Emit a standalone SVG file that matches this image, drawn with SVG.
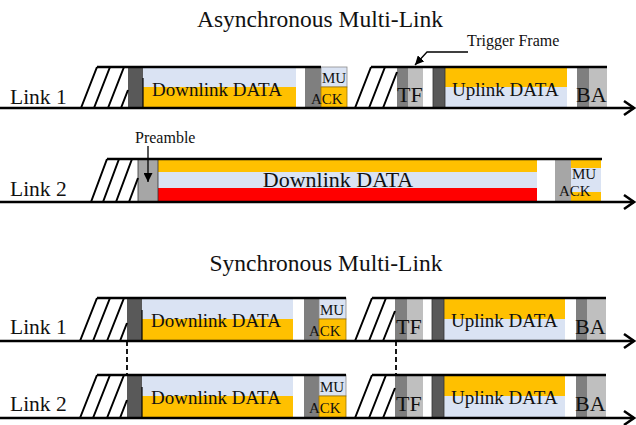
<svg xmlns="http://www.w3.org/2000/svg" width="636" height="425" viewBox="0 0 636 425">
  <defs>
    <style>
      text { font-family: "Liberation Serif", "Times New Roman", serif; fill: #111; }
      .title { font-size: 23.5px; text-anchor: middle; }
      .lbl { font-size: 21.5px; }
      .data { font-size: 19px; }
      .big { font-size: 22px; }
      .small { font-size: 15px; }
      .note { font-size: 16px; }
      .hatch { stroke: #000; stroke-width: 2; fill: none; }
      .top { stroke: #000; stroke-width: 2.5; fill: none; }
      .axis { stroke: #000; stroke-width: 2.5; fill: none; }
      .head { stroke: #000; stroke-width: 2.5; fill: none; stroke-linejoin: miter; }
      .blue { fill: #DAE3F3; }
      .orange { fill: #FFC000; }
      .red { fill: #FF0000; }
      .dark { fill: #595959; }
      .mid { fill: #7F7F7F; }
      .light { fill: #BFBFBF; }
      .pre { fill: #A6A6A6; }
      .tick { stroke: #000; stroke-width: 1.2; }
      .dash { stroke: #000; stroke-width: 1.8; stroke-dasharray: 5 3; }
    </style>
    <marker id="tri" viewBox="0 0 10 10" refX="10" refY="5" markerWidth="9" markerHeight="9" markerUnits="userSpaceOnUse" orient="auto">
      <path d="M0,0 L10,5 L0,10 Z" fill="#000"/>
    </marker>
  </defs>

  <!-- headings -->
  <g id="title-async"><text class="title" x="320" y="27">Asynchronous Multi-Link</text></g>
  <g id="title-sync"><text class="title" x="326" y="271">Synchronous Multi-Link</text></g>

  <!-- link names -->
  <g id="label-a1"><text class="lbl" x="10" y="104">Link 1</text></g>
  <g id="label-a2"><text class="lbl" x="10" y="196">Link 2</text></g>
  <g id="label-s1"><text class="lbl" x="10" y="334">Link 1</text></g>
  <g id="label-s2"><text class="lbl" x="10" y="411">Link 2</text></g>

  <!-- ===== Asynchronous, link 1 ===== -->
  <g id="a1-downlink">
    <rect class="blue" x="143" y="67" width="153" height="20"/>
    <rect class="orange" x="143" y="87" width="153" height="21"/>
    <rect class="dark" x="128" y="67" width="15" height="41"/>
    <line class="tick" x1="143" y1="78" x2="143" y2="108"/>
    <text class="data" x="152" y="96">Downlink DATA</text>
  </g>
  <g id="a1-muack">
    <rect class="mid" x="305" y="67" width="16" height="41"/>
    <rect class="blue" x="321" y="67" width="26" height="20" stroke="#8c8c8c" stroke-width="0.8"/>
    <rect class="orange" x="321" y="87" width="26" height="21" stroke="#a07800" stroke-width="0.8"/>
    <text class="small" x="322" y="83">MU</text>
    <text class="small" x="311" y="104">ACK</text>
  </g>
  <g id="a1-tf">
    <rect class="mid" x="397" y="67" width="11" height="41"/>
    <rect class="light" x="408" y="67" width="15" height="41"/>
    <text class="big" x="397" y="102">TF</text>
  </g>
  <g id="a1-uplink">
    <rect class="orange" x="445" y="67" width="122" height="20"/>
    <rect class="blue" x="445" y="87" width="122" height="21"/>
    <rect class="dark" x="433" y="67" width="12" height="41" stroke="#333" stroke-width="0.8"/>
    <text class="data" x="452" y="96">Uplink DATA</text>
  </g>
  <g id="a1-ba">
    <rect class="mid" x="577" y="67" width="12" height="41"/>
    <rect class="light" x="589" y="67" width="18" height="41"/>
    <text class="big" x="576" y="102">BA</text>
  </g>
  <g id="a1-trigger-note">
    <text class="note" x="467" y="46">Trigger Frame</text>
  </g>

  <!-- ===== Asynchronous, link 2 ===== -->
  <g id="a2-downlink">
    <rect class="orange" x="158" y="159" width="379" height="13"/>
    <rect class="blue" x="158" y="172" width="379" height="16"/>
    <rect class="red" x="158" y="188" width="379" height="14"/>
    <rect class="pre" x="138" y="159" width="20" height="43" stroke="#333" stroke-width="0.8"/>
    <text class="big" x="338" y="187" text-anchor="middle">Downlink DATA</text>
  </g>
  <g id="a2-muack">
    <rect class="orange" x="571" y="159" width="30" height="9"/>
    <rect class="blue" x="571" y="168" width="30" height="24"/>
    <rect class="orange" x="571" y="192" width="30" height="10"/>
    <rect class="pre" x="555" y="159" width="16" height="44"/>
    <text class="small" x="572" y="179">MU</text>
    <text class="small" x="559" y="196">ACK</text>
  </g>
  <g id="a2-preamble-note">
    <text class="note" x="135" y="143">Preamble</text>
  </g>

  <!-- ===== Synchronous, link 1 ===== -->
  <g id="s1-downlink">
    <rect class="blue" x="142" y="298" width="151" height="21"/>
    <rect class="orange" x="142" y="319" width="151" height="22"/>
    <rect class="dark" x="127" y="298" width="15" height="43"/>
    <line class="tick" x1="142" y1="310" x2="142" y2="341"/>
    <text class="data" x="151" y="327">Downlink DATA</text>
  </g>
  <g id="s1-muack">
    <rect class="mid" x="304" y="298" width="15" height="43"/>
    <rect class="blue" x="319" y="298" width="27" height="21" stroke="#8c8c8c" stroke-width="0.8"/>
    <rect class="orange" x="319" y="319" width="27" height="22" stroke="#a07800" stroke-width="0.8"/>
    <text class="small" x="320" y="315">MU</text>
    <text class="small" x="309" y="336">ACK</text>
  </g>
  <g id="s1-tf">
    <rect class="mid" x="395" y="298" width="12" height="43"/>
    <rect class="light" x="407" y="298" width="16" height="43"/>
    <text class="big" x="396" y="334">TF</text>
  </g>
  <g id="s1-uplink">
    <rect class="orange" x="444" y="298" width="121" height="21"/>
    <rect class="blue" x="444" y="319" width="121" height="22"/>
    <rect class="dark" x="432" y="298" width="12" height="43" stroke="#333" stroke-width="0.8"/>
    <text class="data" x="451" y="327">Uplink DATA</text>
  </g>
  <g id="s1-ba">
    <rect class="mid" x="576" y="298" width="11" height="43"/>
    <rect class="light" x="587" y="298" width="19" height="43"/>
    <text class="big" x="575" y="334">BA</text>
  </g>

  <!-- ===== Synchronous, link 2 ===== -->
  <g id="s2-downlink">
    <rect class="blue" x="142" y="375" width="151" height="21"/>
    <rect class="orange" x="142" y="396" width="151" height="22"/>
    <rect class="dark" x="127" y="375" width="15" height="43"/>
    <line class="tick" x1="142" y1="387" x2="142" y2="418"/>
    <text class="data" x="151" y="404">Downlink DATA</text>
  </g>
  <g id="s2-muack">
    <rect class="mid" x="304" y="375" width="15" height="43"/>
    <rect class="blue" x="319" y="375" width="27" height="21" stroke="#8c8c8c" stroke-width="0.8"/>
    <rect class="orange" x="319" y="396" width="27" height="22" stroke="#a07800" stroke-width="0.8"/>
    <text class="small" x="320" y="392">MU</text>
    <text class="small" x="309" y="413">ACK</text>
  </g>
  <g id="s2-tf">
    <rect class="mid" x="395" y="375" width="12" height="43"/>
    <rect class="light" x="407" y="375" width="16" height="43"/>
    <text class="big" x="396" y="411">TF</text>
  </g>
  <g id="s2-uplink">
    <rect class="orange" x="444" y="375" width="121" height="21"/>
    <rect class="blue" x="444" y="396" width="121" height="22"/>
    <rect class="dark" x="432" y="375" width="12" height="43" stroke="#333" stroke-width="0.8"/>
    <text class="data" x="451" y="404">Uplink DATA</text>
  </g>
  <g id="s2-ba">
    <rect class="mid" x="576" y="375" width="11" height="43"/>
    <rect class="light" x="587" y="375" width="19" height="43"/>
    <text class="big" x="575" y="411">BA</text>
  </g>

  <!-- contention (backoff) hatching before each frame -->
  <g id="backoff">
    <path class="hatch" d="M81,108 L97,67 M94,108 L110,67 M108,108 L124,67 M121,108 L128,90"/>
    <path class="hatch" d="M355,108 L371,67 M369,108 L385,67 M383,108 L397,72"/>
    <path class="hatch" d="M91,202 L107,159 M103,202 L119,159 M116,202 L132,159 M129,202 L138,178"/>
    <path class="hatch" d="M80,341 L97,298 M93,341 L110,298 M107,341 L124,298 M120,341 L127,323"/>
    <path class="hatch" d="M355,341 L372,298 M369,341 L386,298 M383,341 L395,311"/>
    <path class="hatch" d="M80,418 L97,375 M93,418 L110,375 M107,418 L124,375 M120,418 L127,400"/>
    <path class="hatch" d="M355,418 L372,375 M369,418 L386,375 M383,418 L395,388"/>
  </g>

  <!-- connectors: frame outlines, time axes, pointers, alignment guides -->
  <g id="connectors">
    <!-- top edges of transmissions -->
    <line class="top" x1="97" y1="67" x2="321" y2="67"/>
    <line class="top" x1="371" y1="67" x2="607" y2="67"/>
    <line class="top" x1="107" y1="159" x2="602" y2="159"/>
    <line class="top" x1="97" y1="298" x2="346" y2="298"/>
    <line class="top" x1="372" y1="298" x2="606" y2="298"/>
    <line class="top" x1="97" y1="375" x2="346" y2="375"/>
    <line class="top" x1="372" y1="375" x2="606" y2="375"/>

    <!-- time axes -->
    <line class="axis" x1="0" y1="108" x2="634" y2="108"/>
    <path class="head" d="M624,101 L634,108 L624,115"/>
    <line class="axis" x1="0" y1="202" x2="634" y2="202"/>
    <path class="head" d="M624,195 L634,202 L624,209"/>
    <line class="axis" x1="0" y1="341" x2="634" y2="341"/>
    <path class="head" d="M624,334 L634,341 L624,348"/>
    <line class="axis" x1="0" y1="418" x2="634" y2="418"/>
    <path class="head" d="M624,411 L634,418 L624,425"/>

    <!-- pointer to the trigger frame -->
    <polyline points="468,52 427,52 415,65" fill="none" stroke="#000" stroke-width="1.3" marker-end="url(#tri)"/>
    <!-- pointer to the preamble -->
    <line x1="148" y1="146" x2="148" y2="182" stroke="#000" stroke-width="1.3" marker-end="url(#tri)"/>

    <!-- synchronised start markers -->
    <line class="dash" x1="127" y1="341" x2="127" y2="375"/>
    <line class="dash" x1="396" y1="341" x2="396" y2="375"/>
  </g>
</svg>
